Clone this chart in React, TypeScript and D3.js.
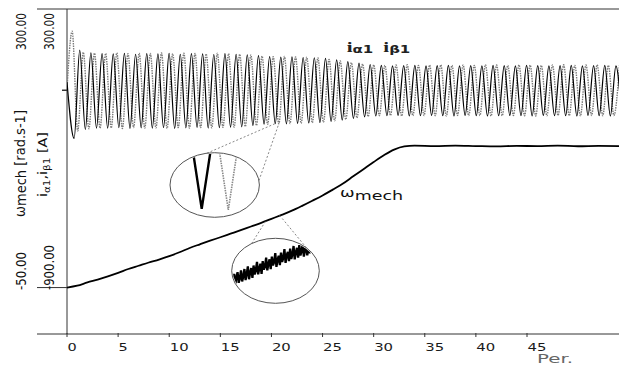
import * as d3 from "d3";

// x axis ticks [Per.]
const xTicks = [0, 5, 10, 15, 20, 25, 30, 35, 40, 45];

// mechanical speed [rad/s]
const omegaT = [0, 1, 2, 3, 4, 5, 6, 7, 8, 9, 10, 11, 12, 13, 14, 15, 16, 17, 18, 19, 20, 21, 22, 23, 24, 25, 26, 27, 28, 29, 30, 31, 32, 33, 34, 36, 38, 40, 42, 44, 46, 48, 50, 52, 54];
const omegaV = [0, 2.0, 5.5, 8.6, 12.0, 15.8, 20.0, 23.5, 27.0, 30.2, 33.8, 38.0, 42.6, 46.6, 50.5, 54.2, 58.0, 61.8, 65.8, 69.7, 74.0, 78.3, 82.8, 88.0, 93.5, 99.2, 105.5, 112.0, 119.8, 127.5, 135.2, 142.5, 148.6, 152.0, 152.8, 152.3, 152.9, 152.4, 152.0, 152.6, 152.3, 152.8, 152.2, 152.6, 152.4];

// phase currents [A]: one peak and one trough per cycle
const iPeriod = 1.0928;
const iAlphaStart = 30;
const iAlphaFirstTrough = 0.7;
const iAlphaFirstPeak = 1.246;
const iAlphaPeaks = [148, 138, 135, 134, 136, 133, 135, 134, 136, 133, 135, 134, 132, 135, 133, 131, 128, 124, 122, 123, 121, 120, 118, 112, 106, 100, 95, 92, 90, 91, 92, 90, 91, 92, 90, 91, 90, 92, 91, 90, 92, 91, 90, 91, 92, 90, 91, 92, 90];
const iAlphaTroughs = [-178, -145, -140, -140, -138, -141, -139, -140, -138, -141, -139, -137, -140, -138, -136, -135, -130, -125, -123, -124, -122, -121, -119, -115, -110, -104, -98, -95, -94, -93, -95, -94, -93, -94, -95, -93, -94, -95, -94, -93, -94, -95, -93, -94, -94, -95, -93, -94, -95, -94];

const iBetaStart = 5;
const iBetaFirstPeak = 0.503;
const iBetaFirstTrough = 1.049;
const iBetaPeaks = [218, 140, 137, 136, 138, 135, 137, 136, 138, 135, 137, 136, 134, 137, 135, 133, 130, 126, 124, 125, 123, 122, 120, 114, 108, 102, 97, 94, 92, 93, 94, 92, 93, 94, 92, 93, 92, 94, 93, 92, 94, 93, 92, 93, 94, 92, 93, 94, 92, 93];
const iBetaTroughs = [-150, -142, -140, -139, -141, -138, -140, -139, -141, -138, -140, -138, -139, -137, -136, -134, -130, -126, -124, -123, -122, -120, -118, -113, -108, -102, -97, -94, -93, -95, -94, -93, -94, -95, -93, -94, -93, -95, -94, -93, -94, -95, -94, -93, -94, -95, -93, -94, -93];

// which trough is magnified in the upper inset
const zoomCycle = 18;

// speed samples shown in the lower inset
const omegaZoomStart = 19.4;
const omegaZoomEnd = 20.8;
const omegaZoom = [
  71.0, 72.6, 70.1, 71.9, 73.0, 70.6, 71.6, 73.4, 70.9, 72.0,
  73.7, 71.2, 72.6, 74.3, 71.4, 72.9, 73.9, 71.7, 74.5, 72.5,
  73.5, 75.3, 72.5, 73.8, 74.9, 72.6, 75.5, 73.6, 74.3, 76.3,
  73.4, 74.9, 75.9, 73.7, 76.5, 74.5, 75.3, 77.3, 74.2, 75.8,
  76.7, 74.6, 77.4, 75.3, 76.2, 78.2, 75.1, 76.8, 77.6, 75.5,
  78.3, 76.0, 77.0, 78.9, 75.9, 77.5, 78.5, 76.3, 79.1, 76.8,
  77.7, 79.5, 76.5, 78.0, 78.9, 76.8, 79.3, 77.3, 78.1, 79.7, 77.8,
];

type Pt = [number, number];

// merge the extremes of a wave into one time-ordered list
function wavePoints(start: number, firstA: number, aVals: number[], firstB: number, bVals: number[]): Pt[] {
  const pts: Pt[] = [[0, start]];
  aVals.forEach((v, k) => pts.push([firstA + k * iPeriod, v]));
  bVals.forEach((v, k) => pts.push([firstB + k * iPeriod, v]));
  return pts.sort((p, q) => p[0] - q[0]);
}

export default function App() {
  const W = 619;
  const H = 365;
  const left = 67;
  const right = 619;
  const top = 9;
  const bottom = 334;

  const x = d3.scaleLinear().domain([0, 54]).range([left, right]);
  const yW = d3.scaleLinear().domain([-50, 300]).range([bottom, top]);
  const yI = d3.scaleLinear().domain([-900, 300]).range([bottom, top]);

  const alpha = wavePoints(iAlphaStart, iAlphaFirstTrough, iAlphaTroughs, iAlphaFirstPeak, iAlphaPeaks);
  const beta = wavePoints(iBetaStart, iBetaFirstPeak, iBetaPeaks, iBetaFirstTrough, iBetaTroughs);
  const omega: Pt[] = omegaT.map((t, i) => [t, omegaV[i]]);

  const curve = (sx: d3.ScaleLinear<number, number>, sy: d3.ScaleLinear<number, number>, c: d3.CurveFactory) =>
    d3.line<Pt>().x(d => sx(d[0])).y(d => sy(d[1])).curve(c);

  const mainI = curve(x, yI, d3.curveMonotoneX);
  const mainW = curve(x, yW, d3.curveMonotoneX);

  // upper inset: magnified trough of both currents
  const tS = iAlphaFirstTrough + zoomCycle * iPeriod;
  const tD = iBetaFirstTrough + zoomCycle * iPeriod;
  const x1 = d3.scaleLinear().domain([tS, tD]).range([201.7, 228.3]);
  const y1 = d3.scaleLinear().domain([-124, -70]).range([210, 150]);
  const inI = curve(x1, y1, d3.curveLinear);
  const e1 = { cx: 214.7, cy: 185, rx: 44.7, ry: 32.3 };

  // lower inset: magnified, noisy speed
  const x2 = d3.scaleLinear().domain([omegaZoomStart, omegaZoomEnd]).range([233, 313]);
  const y2 = d3.scaleLinear().domain([71, 78]).range([281, 250]);
  const stepZ = (omegaZoomEnd - omegaZoomStart) / (omegaZoom.length - 1);
  const zoomPts: Pt[] = omegaZoom.map((v, i) => [omegaZoomStart + i * stepZ, v]);
  const inW = d3.line<Pt>().x(d => x2(d[0])).y(d => y2(d[1]));
  const e2 = { cx: 275.5, cy: 270.8, rx: 43.8, ry: 32.5 };

  const onEllipse = (e: typeof e1, deg: number): Pt => [
    e.cx + e.rx * Math.cos((deg * Math.PI) / 180),
    e.cy + e.ry * Math.sin((deg * Math.PI) / 180),
  ];

  const links: [Pt, Pt][] = [
    [onEllipse(e1, -100), [x(tS), yI(iAlphaTroughs[zoomCycle])]],
    [onEllipse(e1, -8), [x(tD), yI(iBetaTroughs[zoomCycle])]],
    [onEllipse(e2, -123), [x(omegaZoomStart), yW(omegaZoom[0])]],
    [onEllipse(e2, -45), [x(omegaZoomEnd), yW(omegaZoom[omegaZoom.length - 1])]],
  ];

  const axisCol = "#333";
  const font = "DejaVu Sans";

  return (
    <svg width={W} height={H} style={{ position: "absolute", left: 0, top: 0, background: "#fff" }}>
      <defs>
        <clipPath id="plot">
          <rect x={left} y={top} width={right - left} height={bottom - top} />
        </clipPath>
        <clipPath id="ell1">
          <ellipse cx={e1.cx} cy={e1.cy} rx={e1.rx - 1} ry={e1.ry - 1} />
        </clipPath>
        <clipPath id="ell2">
          <ellipse cx={e2.cx} cy={e2.cy} rx={e2.rx - 1} ry={e2.ry - 1} />
        </clipPath>
      </defs>

      {/* frame and axes */}
      <line x1={left} x2={right} y1={top} y2={top} stroke={axisCol} strokeWidth={1} />
      <line x1={left} x2={left} y1={top} y2={bottom} stroke={axisCol} strokeWidth={1} />
      <line x1={left} x2={right} y1={bottom} y2={bottom} stroke={axisCol} strokeWidth={1} />
      {[300, 0, -50].map(v => (
        <line key={v} x1={37} x2={left} y1={yW(v)} y2={yW(v)} stroke={axisCol} strokeWidth={1} />
      ))}
      <line x1={left - 5} x2={left} y1={yI(0)} y2={yI(0)} stroke={axisCol} strokeWidth={1.5} />
      {xTicks.map(t => (
        <g key={t}>
          <line x1={x(t)} x2={x(t)} y1={bottom - 1} y2={bottom + 3} stroke={axisCol} strokeWidth={1} />
          <text x={x(t) + 0.5} y={351} fontFamily={font} fontSize={10.5} fill="#1a1a1a"
            textLength={String(t).length * 9.7 - 0.5} lengthAdjust="spacingAndGlyphs">{t}</text>
        </g>
      ))}
      <text x={537} y={363} fontFamily={font} fontSize={12.5} fill="#666" textLength={36} lengthAdjust="spacingAndGlyphs">Per.</text>

      {/* y tick labels */}
      {[
        { s: "300.00", x: 25.5, y: 50, len: 37 },
        { s: "300.00", x: 54, y: 50, len: 37 },
        { s: "-50.00", x: 25.5, y: 290, len: 38 },
        { s: "-900.00", x: 54, y: 290, len: 45 },
      ].map((d, i) => (
        <text key={i} transform={`translate(${d.x},${d.y}) rotate(-90)`} fontFamily={font} fontSize={13.5}
          fill="#111" textLength={d.len} lengthAdjust="spacingAndGlyphs">{d.s}</text>
      ))}

      {/* y axis titles */}
      <text transform="translate(25,217) rotate(-90)" fontFamily={font} fontSize={13.5} fill="#111"
        textLength={107} lengthAdjust="spacingAndGlyphs">
        ω<tspan dy={1}>mech</tspan><tspan dy={-1}> [rad.s-1]</tspan>
      </text>
      <text transform="translate(47,197) rotate(-90)" fontFamily={font} fontSize={12.5} fill="#111"
        textLength={65} lengthAdjust="spacingAndGlyphs">
        i<tspan fontSize={9} dy={3}>α1</tspan><tspan dy={-3}>,i</tspan><tspan fontSize={9} dy={3}>β1</tspan><tspan dy={-3}> [A]</tspan>
      </text>

      {/* traces */}
      <g clipPath="url(#plot)">
        <path d={mainI(beta) ?? ""} fill="none" stroke="#7a7a7a" strokeWidth={1.4} strokeDasharray="1.5,1" />
        <path d={mainI(alpha) ?? ""} fill="none" stroke="#000" strokeWidth={1.2} />
        <path d={mainW(omega) ?? ""} fill="none" stroke="#000" strokeWidth={1.8} />
      </g>

      {/* connectors */}
      {links.map((l, i) => (
        <line key={i} x1={l[0][0]} y1={l[0][1]} x2={l[1][0]} y2={l[1][1]}
          stroke="#888" strokeWidth={1} strokeDasharray="2,2" />
      ))}

      {/* upper inset */}
      <ellipse cx={e1.cx} cy={e1.cy} rx={e1.rx} ry={e1.ry} fill="#fff" stroke="#555" strokeWidth={1} />
      <g clipPath="url(#ell1)">
        <path d={inI(beta) ?? ""} fill="none" stroke="#888" strokeWidth={1.6} strokeDasharray="1.5,1" />
        <path d={inI(alpha) ?? ""} fill="none" stroke="#000" strokeWidth={2.4} />
      </g>

      {/* lower inset */}
      <ellipse cx={e2.cx} cy={e2.cy} rx={e2.rx} ry={e2.ry} fill="#fff" stroke="#555" strokeWidth={1} />
      <g clipPath="url(#ell2)">
        <path d={inW(zoomPts) ?? ""} fill="none" stroke="#000" strokeWidth={2.3} />
      </g>

      {/* trace labels */}
      <text transform="translate(346.7,51.7) scale(1.5,1)" fontFamily="Liberation Serif" fontWeight="bold" fontSize={14} fill="#222">
        i<tspan fontFamily={font} fontWeight="bold" fontSize={10} dy={1.6}>α1</tspan>
      </text>
      <text transform="translate(383.3,51.7) scale(1.5,1)" fontFamily="Liberation Serif" fontWeight="bold" fontSize={14} fill="#222">
        i<tspan fontFamily={font} fontWeight="bold" fontSize={10} dy={1.6}>β1</tspan>
      </text>
      <text transform="translate(340,197) scale(1.4,1)" fontFamily={font} fontSize={12.5} fill="#111">
        ω<tspan dy={2.7}>mech</tspan>
      </text>
    </svg>
  );
}
